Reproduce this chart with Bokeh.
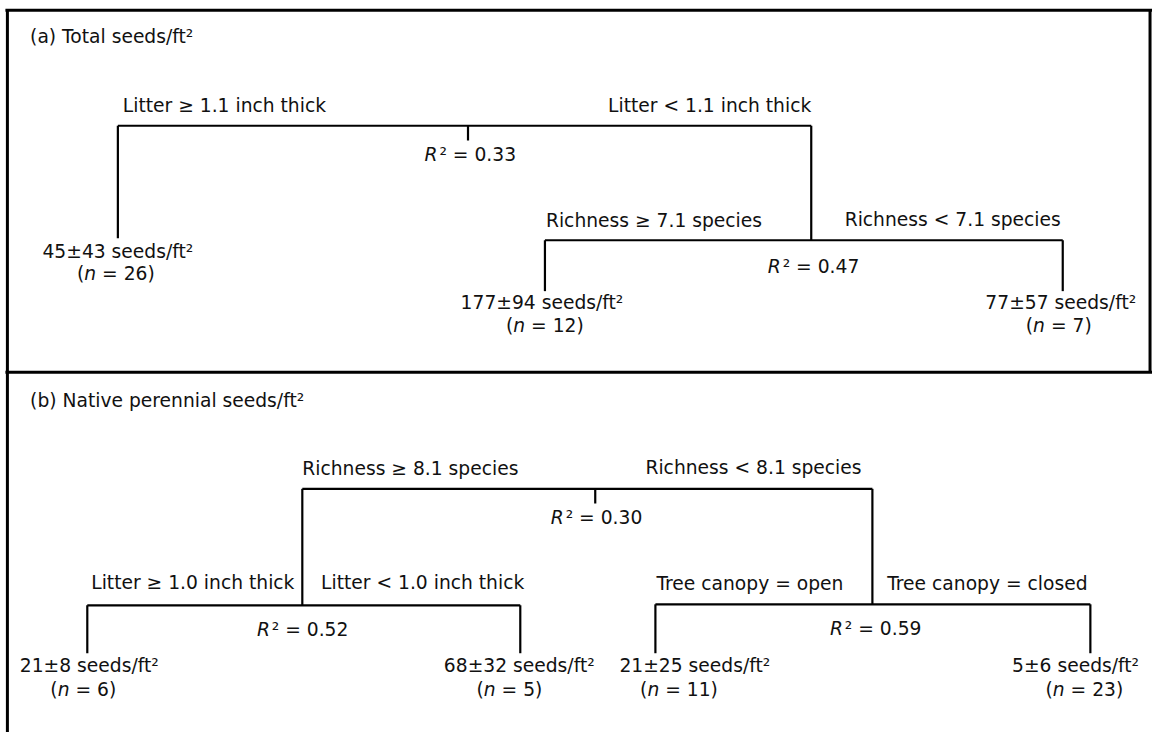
from bokeh.plotting import figure
from bokeh.models import Range1d
from bokeh.core.properties import value
from bokeh.embed import file_html
from bokeh.resources import INLINE

# ---------------- data ----------------
panel_titles = ["(a) Total seeds/ft²", "(b) Native perennial seeds/ft²"]
split_left_labels = ["Litter ≥ 1.1 inch thick", "Richness ≥ 7.1 species",
                     "Richness ≥ 8.1 species", "Litter ≥ 1.0 inch thick",
                     "Tree canopy = open"]
split_right_labels = ["Litter < 1.1 inch thick", "Richness < 7.1 species",
                      "Richness < 8.1 species", "Litter < 1.0 inch thick",
                      "Tree canopy = closed"]
split_r2 = [0.33, 0.47, 0.30, 0.52, 0.59]
leaf_mean = [45, 177, 77, 21, 68, 21, 5]
leaf_sd = [43, 94, 57, 8, 32, 25, 6]
leaf_n = [26, 12, 7, 6, 5, 11, 23]
# tree structure: children of each split ("S", i) split / ("L", i) leaf
split_children = [(("L", 0), ("S", 1)), (("L", 1), ("L", 2)),
                  (("S", 3), ("S", 4)), (("L", 3), ("L", 4)),
                  (("L", 5), ("L", 6))]

# ---------------- layout (reference pixel positions) ----------------
split_bar_y = [128, 245, 499, 618, 617]
split_xl = [119, 552, 306, 88, 664]
split_xr = [822, 1077, 884, 527, 1105]
split_tick_x = [474, None, 603, None, None]
left_lab_pos = [(124, 107, "left"), (553, 225, "left"), (306, 478, "left"),
                (298, 595, "right"), (665, 596, "left")]
right_lab_pos = [(822, 107, "right"), (1075, 224, "right"), (873, 477, "right"),
                 (325, 595, "left"), (899, 596, "left")]
r2_pos = [(430, 157), (778, 272), (558, 528), (260, 643), (841, 642)]
leaf_bottom = [243, 297, 297, 667, 667, 667, 667]
leaf_text_pos = [(119, 256), (549, 309), (1075, 309), (90, 680), (526, 680),
                 (704, 680), (1090, 680)]
leaf_n_pos = [(117, 279), (552, 332), (1073, 332), (84, 704), (516, 704),
              (688, 704), (1099, 704)]
title_pos = [(30, 37), (30, 409)]

W, H = 1152, 732
SX = W / 1168.0
FONT = value("DejaVu Sans")
FS = 19 * SX
FSZ = value(f"{FS:.1f}px")
COL = "#111111"

p = figure(width=W, height=H, x_range=Range1d(0, 1168), y_range=Range1d(748, 0),
           output_backend="svg", toolbar_location=None,
           x_axis_location=None, y_axis_location=None, min_border=0)
p.grid.visible = False
p.outline_line_color = None
p.background_fill_color = "white"
p.border_fill_color = "white"

# frame
p.segment(x0=[7, 5, 1165.5, 5], y0=[9, 10, 10, 380],
          x1=[7, 1168, 1165.5, 1168], y1=[748, 10, 380, 380],
          line_color="black", line_width=3)

# tree lines
x0s, y0s, x1s, y1s = [], [], [], []
def child_top(ch):
    kind, i = ch
    return split_bar_y[i] if kind == "S" else leaf_bottom[i]

for i in range(len(split_r2)):
    by = split_bar_y[i]
    x0s.append(split_xl[i]); y0s.append(by); x1s.append(split_xr[i]); y1s.append(by)
    lc, rc = split_children[i]
    x0s.append(split_xl[i]); y0s.append(by); x1s.append(split_xl[i]); y1s.append(child_top(lc))
    x0s.append(split_xr[i]); y0s.append(by); x1s.append(split_xr[i]); y1s.append(child_top(rc))
    if split_tick_x[i] is not None:
        x0s.append(split_tick_x[i]); y0s.append(by); x1s.append(split_tick_x[i]); y1s.append(by + 15)
p.segment(x0=x0s, y0=y0s, x1=x1s, y1=y1s, line_color="black", line_width=2.2)

def txt(xs, ys, texts, align="left", style="normal"):
    p.text(x=xs, y=ys, text=texts, text_align=align, text_baseline="middle",
           text_font=FONT, text_font_size=FSZ, text_color=COL, text_font_style=style)

# titles
txt([t[0] for t in title_pos], [t[1] for t in title_pos], panel_titles)

# split labels
for pos, labs in ((left_lab_pos, split_left_labels), (right_lab_pos, split_right_labels)):
    for (x, y, a), lab in zip(pos, labs):
        txt([x], [y], [lab], align=a)

# R^2 labels: italic R + rest
txt([q[0] for q in r2_pos], [q[1] for q in r2_pos], ["R"] * len(r2_pos), style="italic")
txt([q[0] + 15 for q in r2_pos], [q[1] for q in r2_pos],
    [f"² = {r:.2f}" for r in split_r2])

# leaves
txt([q[0] for q in leaf_text_pos], [q[1] for q in leaf_text_pos],
    [f"{m}±{s} seeds/ft²" for m, s in zip(leaf_mean, leaf_sd)], align="center")

CW = {"(": 0.39, ")": 0.39, " ": 0.318, "=": 0.838}
def width(s):
    return sum(CW.get(c, 0.636) for c in s) * 19

nx0, nrest, ny, rest_texts = [], [], [], []
for (cx, cy), n in zip(leaf_n_pos, leaf_n):
    rest = f"= {n})"
    w_total = width("(") + 0.634 * 19 + width(" " + rest)
    x0 = cx - w_total / 2 + width("(")
    nx0.append(x0); nrest.append(x0 + 0.634 * 19 + width(" ")); ny.append(cy)
    rest_texts.append(rest)
txt(nx0, ny, ["("] * len(leaf_n), align="right")
txt(nx0, ny, ["n"] * len(leaf_n), style="italic")
txt(nrest, ny, rest_texts)

open("out.html", "w").write(file_html(p, INLINE))
